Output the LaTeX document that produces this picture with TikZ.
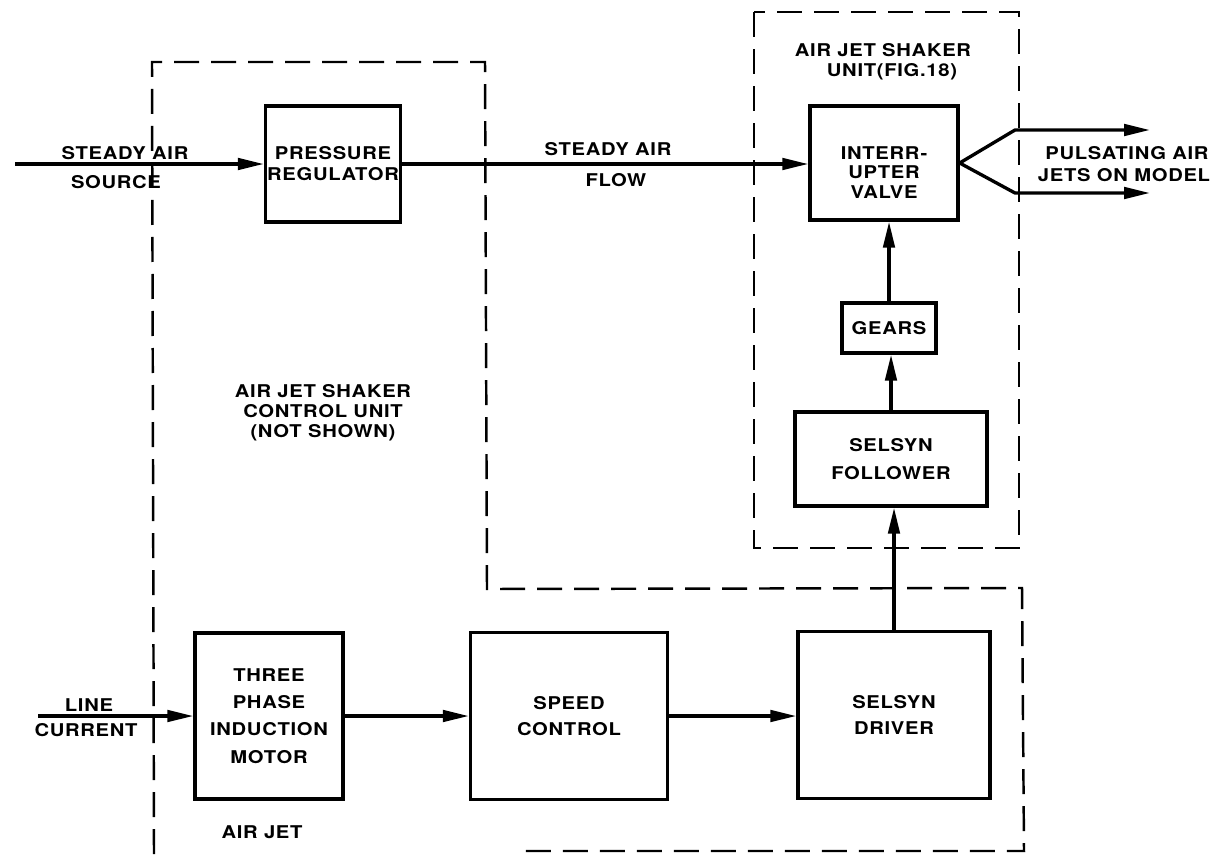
\documentclass[tikz,border=0pt]{standalone}
\usepackage{fontspec}
\setmainfont{TeX Gyre Heros}[FakeStretch=1.15, LetterSpace=4]
\usetikzlibrary{arrows.meta,positioning}

\begin{document}
\begin{tikzpicture}[
  x=0.2mm, y=-0.2mm,
  every node/.style={font=\fontsize{10}{13}\selectfont\bfseries},
  block/.style={rectangle, draw, line width=1.9pt, inner sep=0pt, align=center},
  arrow/.style={-{Triangle[length=5.2mm, width=2.3mm]}, line width=1.9pt},
  note/.style={inner sep=0pt, align=center},
  boundary/.style={line width=1.4pt, dash pattern=on 5mm off 2.4mm},
]
\useasboundingbox (0,0) rectangle (1217,854);

% === dashed unit frames ===
\draw[boundary] (154,854) -- (152,62) -- (485,62) -- (487,589) -- (1022,588) -- (1024,851) -- (525,851);
\draw[boundary] (754,12) rectangle (1019,548);

\node[note] (shaker-t1) at (883,50) {AIR JET SHAKER};
\node[note] (shaker-t2) at (892,72) {UNIT(FIG.18)};
\node[note, font=\fontsize{10}{11.5}\selectfont\bfseries] (ctrl-title) at (323,413) {AIR JET SHAKER\\CONTROL UNIT\\(NOT SHOWN)};
\node[note] (bottom-title) at (262,832) {AIR JET};

% === air path (top) ===
\node[block, minimum width=27mm, minimum height=23.2mm, font=\fontsize{10}{12}\selectfont\bfseries] (preg) at (333,164) {PRESSURE\\REGULATOR};
\node[block, minimum width=29.6mm, minimum height=22.8mm, font=\fontsize{10}{11}\selectfont\bfseries] (valve) at (884,163) {\\[7pt]INTERR-\\UPTER\\VALVE};
\node[block, minimum width=18.8mm, minimum height=10mm] (gears) at (889,328) {GEARS};
\node[block, minimum width=38.4mm, minimum height=18.8mm, font=\fontsize{10}{15.5}\selectfont\bfseries] (follower) at (891,459) {SELSYN\\FOLLOWER};

\coordinate (src) at (15,164);
\coordinate (jet-up) at (1015,130);
\coordinate (jet-dn) at (1015,193);
\coordinate (jet-up-end) at (1150,130);
\coordinate (jet-dn-end) at (1150,193);

\draw[arrow] (src) -- (preg.west);
\draw[arrow] (preg.east) -- (valve.west |- preg.east);
\draw[arrow] (valve.east) -- (jet-up) -- (jet-up-end);
\draw[arrow] (valve.east) -- (jet-dn) -- (jet-dn-end);
\draw[arrow] (gears.north) -- (gears.north |- valve.south);
\draw[arrow] (follower.north) -- (follower.north |- gears.south);

\node[note] (src-t1) at (125,153) {STEADY AIR};
\node[note] (src-t2) at (116,182) {SOURCE};
\node[note] (flow-t1) at (608,149) {STEADY AIR};
\node[note] (flow-t2) at (616,180) {FLOW};
\node[note] (jets-t1) at (1127,153) {PULSATING AIR};
\node[note] (jets-t2) at (1124,175) {JETS ON MODEL};

% === drive path (bottom) ===
\node[block, minimum width=29.6mm, minimum height=33.2mm, font=\fontsize{10}{15.5}\selectfont\bfseries] (motor) at (269,716) {THREE\\PHASE\\INDUCTION\\MOTOR};
\node[block, minimum width=39.4mm, minimum height=33.4mm, font=\fontsize{10}{15}\selectfont\bfseries] (speed) at (569,716) {SPEED\\CONTROL};
\node[block, minimum width=38.4mm, minimum height=33.4mm, font=\fontsize{10}{14.5}\selectfont\bfseries] (driver) at (894,715) {SELSYN\\DRIVER};

\coordinate (mains) at (38,716);

\draw[arrow] (mains) -- (motor.west);
\draw[arrow] (motor.east) -- (speed.west);
\draw[arrow] (speed.east) -- (driver.west |- speed.east);
\draw[arrow] (driver.north) -- (driver.north |- follower.south);

\node[note] (mains-t1) at (89,705) {LINE};
\node[note] (mains-t2) at (86,730) {CURRENT};
\end{tikzpicture}
\end{document}
